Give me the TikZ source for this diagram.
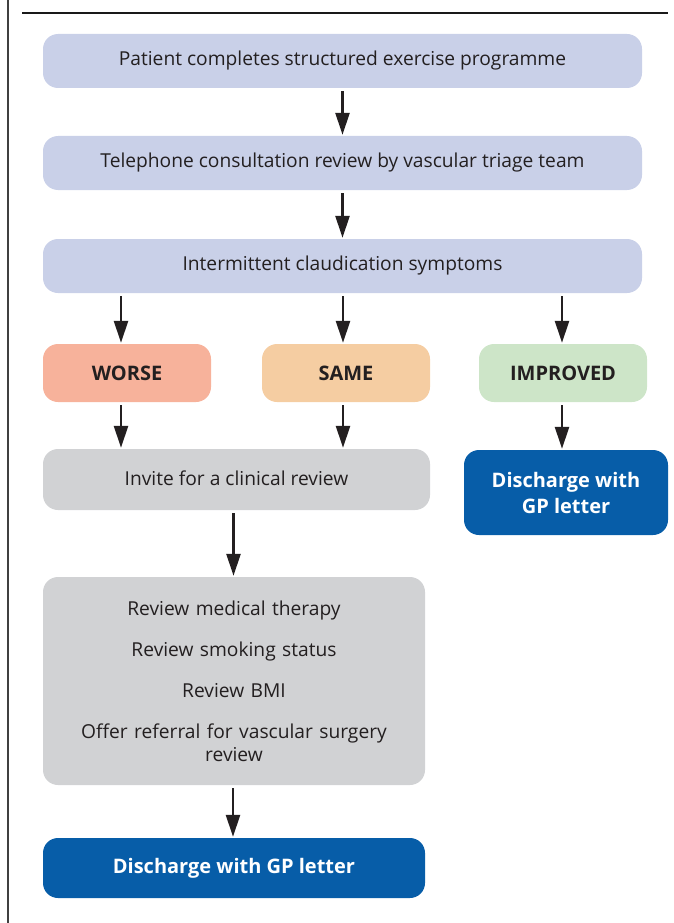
\documentclass[tikz,border=0pt]{standalone}
\usepackage{fontspec}
\setmainfont{Open Sans}
\usepackage{tikz}
\usetikzlibrary{arrows.meta,positioning,calc}

\definecolor{lavender}{HTML}{C9D0E8}
\definecolor{worsefill}{HTML}{F7B29B}
\definecolor{samefill}{HTML}{F5CDA2}
\definecolor{improvedfill}{HTML}{CDE5C8}
\definecolor{greyfill}{HTML}{D1D2D4}
\definecolor{gpblue}{HTML}{075DA8}
\definecolor{inkgrey}{HTML}{231F20}

\begin{document}
\begin{tikzpicture}[x=1pt,y=1pt,font=\fontsize{19.2}{23}\selectfont,text=inkgrey,
  box/.style={rounded corners=15pt,inner sep=0pt,align=center},
  stage/.style={box,fill=lavender,minimum width=599pt,minimum height=54pt},
  verdict/.style={box,minimum width=168pt,minimum height=58pt,font=\fontsize{20}{26}\selectfont\bfseries},
  review/.style={box,fill=greyfill},
  discharge/.style={box,fill=gpblue,text=white,font=\fontsize{20}{26}\selectfont\bfseries},
  arr/.style={-{Triangle[length=22pt,width=14pt]},line width=2.5pt,draw=inkgrey,shorten >=1pt,shorten <=3pt}]
\useasboundingbox (0,0) rectangle (674,-923);
% frame lines
\draw[line width=1.5pt,draw=black!75] (8,0) -- (8,-923);
\draw[line width=2.5pt,draw=black!90] (22,-13) -- (668,-13);
% the three stages
\node[stage] (done) at (342.5,-61) {\raisebox{3pt}{Patient completes structured exercise programme}};
\node[stage] (phone) at (342.5,-163) {\raisebox{3pt}{Telephone consultation review by vascular triage team}};
\node[stage] (symptoms) at (342.5,-266) {\raisebox{3pt}{Intermittent claudication symptoms}};
% outcome of the review
\node[verdict,fill=worsefill] (worse) at (127,-373) {WORSE};
\node[verdict,fill=samefill] (same) at (346,-373) {SAME};
\node[verdict,fill=improvedfill] (improved) at (563,-373) {IMPROVED};
\node[review,minimum width=387pt,minimum height=61pt] (invite) at (236.5,-479.5) {\raisebox{3pt}{Invite for a clinical review}};
\node[discharge,minimum width=204pt,minimum height=85pt] (gpright) at (566,-492.5) {Discharge with\\GP letter};
\node[review,minimum width=382pt,minimum height=208pt,text width=330pt] (checks) at (234,-681)
  {Review medical therapy\\[18pt]Review smoking status\\[18pt]Review BMI\\[18pt]Offer referral for vascular surgery\\review};
\node[discharge,minimum width=382pt,minimum height=60pt] (gpleft) at (234,-868) {Discharge with GP letter};
% connectors
\draw[arr] (done) -- (phone);
\draw[arr] (phone) -- (symptoms);
\foreach \v/\dx in {worse/-6,same/-3,improved/-1}
  \draw[arr] ([xshift=\dx pt]symptoms.south -| \v) -- ([xshift=\dx pt]\v.north);
\foreach \v/\dx in {worse/-6,same/-3}
  \draw[arr] ([xshift=\dx pt]\v.south) -- ([xshift=\dx pt]invite.north -| \v);
\draw[arr] ([xshift=-1pt]improved.south) -- ([xshift=-1pt]gpright.north -| improved);
\draw[arr] ([xshift=-3pt]invite.south) -- ([xshift=-3pt]invite.south |- checks.north);
\draw[arr] ([xshift=-1pt]checks.south) -- ([xshift=-1pt]gpleft.north);
\end{tikzpicture}
\end{document}
